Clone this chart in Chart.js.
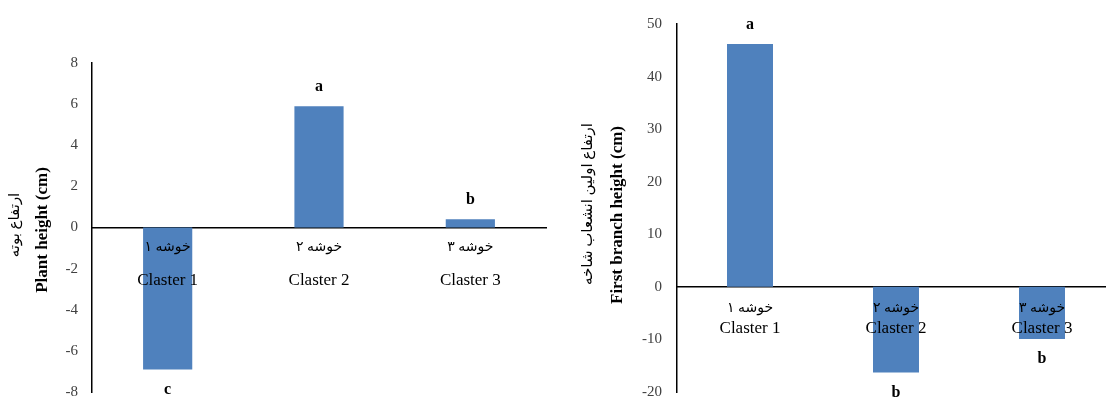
<!DOCTYPE html>
<html>
<head>
<meta charset="utf-8">
<script src="https://cdn.jsdelivr.net/npm/chart.js@4/dist/chart.umd.min.js"></script>
<style>
  html, body { margin: 0; padding: 0; background: #ffffff; width: 1106px; height: 399px; overflow: hidden; position: relative; }
  canvas { position: absolute; top: 0; }
  #c1 { left: 0; }
  #c2 { left: 560px; }
</style>
</head>
<body>
<canvas id="c1" width="553" height="415"></canvas>
<canvas id="c2" width="570" height="416"></canvas>
<script>
const categories = ['Claster 1', 'Claster 2', 'Claster 3'];
const persianCategories = ['خوشه ۱', 'خوشه ۲', 'خوشه ۳'];
const plantHeight = [-6.9, 5.9, 0.4];
const plantLetters = ['c', 'a', 'b'];
const branchHeight = [46.2, -16.3, -9.9];
const branchLetters = ['a', 'b', 'b'];
const plantTicks = { min: -8, max: 8, step: 2 };
const branchTicks = { min: -20, max: 50, step: 10 };

const SERIF = '"Liberation Serif", "Times New Roman", "DejaVu Serif", "DejaVu Sans", serif';
const BAR_COLOR = '#4F81BD';

function makeChart(id, values, letters, range, cfg) {
  const annot = {
    id: 'annot' + id,
    afterDraw(chart) {
      const ctx = chart.ctx;
      const xs = chart.scales.x, ys = chart.scales.y;
      const y0 = ys.getPixelForValue(0);
      ctx.save();
      ctx.fillStyle = '#000';
      ctx.textAlign = 'center';
      ctx.textBaseline = 'middle';
      categories.forEach((c, i) => {
        const x = xs.getPixelForValue(i);
        ctx.font = '14px ' + SERIF;
        ctx.fillText(persianCategories[i], x, y0 + cfg.faOffset);
        ctx.font = '17px ' + SERIF;
        ctx.fillText(c, x, y0 + cfg.enOffset);
      });
      ctx.font = 'bold 16px ' + SERIF;
      values.forEach((v, i) => {
        const x = xs.getPixelForValue(i);
        const yv = ys.getPixelForValue(v);
        const y = v >= 0 ? yv - 19 : yv + 20;
        ctx.fillText(letters[i], x, y);
      });
      ctx.translate(cfg.titleX, 0);
      ctx.rotate(-Math.PI / 2);
      ctx.font = '15px ' + SERIF;
      ctx.fillText(cfg.faTitle, -cfg.faY, -cfg.titleGap);
      ctx.font = 'bold 17px ' + SERIF;
      ctx.fillText(cfg.enTitle, -cfg.enY, 0);
      ctx.restore();
    }
  };
  return new Chart(document.getElementById(id), {
    type: 'bar',
    data: {
      labels: categories,
      datasets: [{
        data: values,
        backgroundColor: BAR_COLOR,
        borderWidth: 0,
        barPercentage: cfg.barPct,
        categoryPercentage: 1.0
      }]
    },
    options: {
      responsive: false,
      animation: false,
      devicePixelRatio: 1,
      layout: { padding: cfg.padding },
      plugins: { legend: { display: false }, tooltip: { enabled: false } },
      scales: {
        x: {
          position: { y: 0 },
          grid: { display: false, drawTicks: false },
          border: { display: true, color: '#000', width: 1.5 },
          ticks: { display: false },
          afterFit(s) { s.height = 0; }
        },
        y: {
          min: range.min, max: range.max,
          grid: { display: false, drawTicks: false },
          border: { display: true, color: '#000', width: 1.5 },
          ticks: {
            stepSize: range.step,
            padding: cfg.tickPad,
            color: '#404040',
            font: { family: SERIF, size: 15 }
          },
          afterFit(s) { s.width = cfg.yWidth; }
        }
      }
    },
    plugins: [annot]
  });
}

makeChart('c1', plantHeight, plantLetters, plantTicks, {
  padding: { top: 63, bottom: 7, left: 0, right: 7 },
  yWidth: 92, tickPad: 14, barPct: 0.325,
  faOffset: 20, enOffset: 53,
  titleX: 43, enY: 230, faY: 225, titleGap: 28,
  faTitle: 'ارتفاع بوته', enTitle: 'Plant height (cm)'
});

makeChart('c2', branchHeight, branchLetters, branchTicks, {
  padding: { top: 22, bottom: 6, left: 0, right: 15 },
  yWidth: 117, tickPad: 15, barPct: 0.315,
  faOffset: 21, enOffset: 42,
  titleX: 618 - 560, enY: 215, faY: 204, titleGap: 30,
  faTitle: 'ارتفاع اولین انشعاب شاخه', enTitle: 'First branch height (cm)'
});
</script>
</body>
</html>
